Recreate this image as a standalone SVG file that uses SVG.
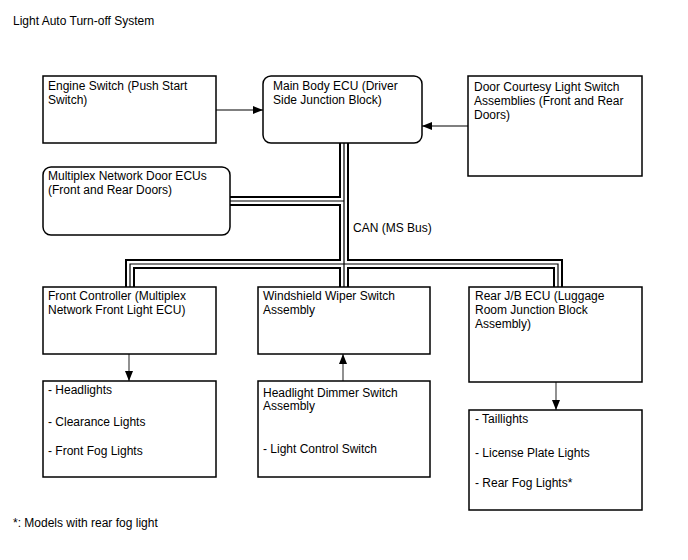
<svg xmlns="http://www.w3.org/2000/svg" width="688" height="560" viewBox="0 0 688 560">
<style>
text{font-family:"Liberation Sans",Arial,sans-serif;font-size:12px;fill:#000}
.box{fill:#fff;stroke:#000;stroke-width:1.5}
.arr{fill:none;stroke:#555;stroke-width:1.3;marker-end:url(#ah)}
.busO{fill:none;stroke:#000;stroke-width:10;stroke-linejoin:miter}
.busW{fill:none;stroke:#fff;stroke-width:6;stroke-linejoin:miter}
.busC{fill:none;stroke:#000;stroke-width:1.2;stroke-linejoin:miter}
</style>
<defs>
<marker id="ah" markerWidth="10" markerHeight="8" refX="10" refY="4" orient="auto" markerUnits="userSpaceOnUse">
<path d="M0,0 L10,4 L0,8 Z" fill="#000"/>
</marker>
<path id="bus" d="M344,143 V264 M230,201 H344 M130,287 V264 H558 V287 M344,264 V287"/>
</defs>
<rect width="688" height="560" fill="#fff"/>
<text x="13" y="25">Light Auto Turn-off System</text>
<g id="connectors">
<use href="#bus" class="busO"/>
<use href="#bus" class="busW"/>
<use href="#bus" class="busC"/>
<line class="arr" x1="216" y1="110" x2="263" y2="110"/>
<line class="arr" x1="468" y1="126" x2="422" y2="126"/>
<line class="arr" x1="129" y1="354" x2="129" y2="381"/>
<line class="arr" x1="343" y1="381" x2="343" y2="354"/>
<line class="arr" x1="556" y1="382" x2="556" y2="410"/>
<text x="353" y="232">CAN (MS Bus)</text>
</g>
<g id="engine-switch">
<rect class="box" x="43" y="76" width="173" height="67"/>
<text x="48" y="90">Engine Switch (Push Start</text>
<text x="48" y="104">Switch)</text>
</g>
<g id="main-body-ecu">
<rect class="box" x="263" y="76" width="159" height="67" rx="8"/>
<text x="273" y="90">Main Body ECU (Driver</text>
<text x="273" y="104">Side Junction Block)</text>
</g>
<g id="door-courtesy">
<rect class="box" x="468" y="76" width="174" height="100"/>
<text x="474" y="91">Door Courtesy Light Switch</text>
<text x="474" y="105">Assemblies (Front and Rear</text>
<text x="474" y="119">Doors)</text>
</g>
<g id="door-ecus">
<rect class="box" x="43" y="167" width="187" height="68" rx="8"/>
<text x="48" y="180">Multiplex Network Door ECUs</text>
<text x="48" y="194">(Front and Rear Doors)</text>
</g>
<g id="front-controller">
<rect class="box" x="43" y="287" width="173" height="67"/>
<text x="48" y="300">Front Controller (Multiplex</text>
<text x="48" y="314">Network Front Light ECU)</text>
</g>
<g id="wiper-switch">
<rect class="box" x="258" y="287" width="172" height="67"/>
<text x="263" y="300">Windshield Wiper Switch</text>
<text x="263" y="314">Assembly</text>
</g>
<g id="rear-jb-ecu">
<rect class="box" x="469" y="287" width="173" height="95"/>
<text x="475" y="300">Rear J/B ECU (Luggage</text>
<text x="475" y="314">Room Junction Block</text>
<text x="475" y="328">Assembly)</text>
</g>
<g id="front-lights">
<rect class="box" x="43" y="381" width="173" height="96"/>
<text x="48" y="394">- Headlights</text>
<text x="48" y="426">- Clearance Lights</text>
<text x="48" y="455">- Front Fog Lights</text>
</g>
<g id="dimmer-switch">
<rect class="box" x="258" y="381" width="172" height="96"/>
<text x="263" y="397">Headlight Dimmer Switch</text>
<text x="263" y="410">Assembly</text>
<text x="263" y="453">- Light Control Switch</text>
</g>
<g id="rear-lights">
<rect class="box" x="469" y="410" width="173" height="100"/>
<text x="475" y="423">- Taillights</text>
<text x="475" y="457">- License Plate Lights</text>
<text x="475" y="487">- Rear Fog Lights*</text>
</g>
<text x="13" y="527">*: Models with rear fog light</text>
</svg>
